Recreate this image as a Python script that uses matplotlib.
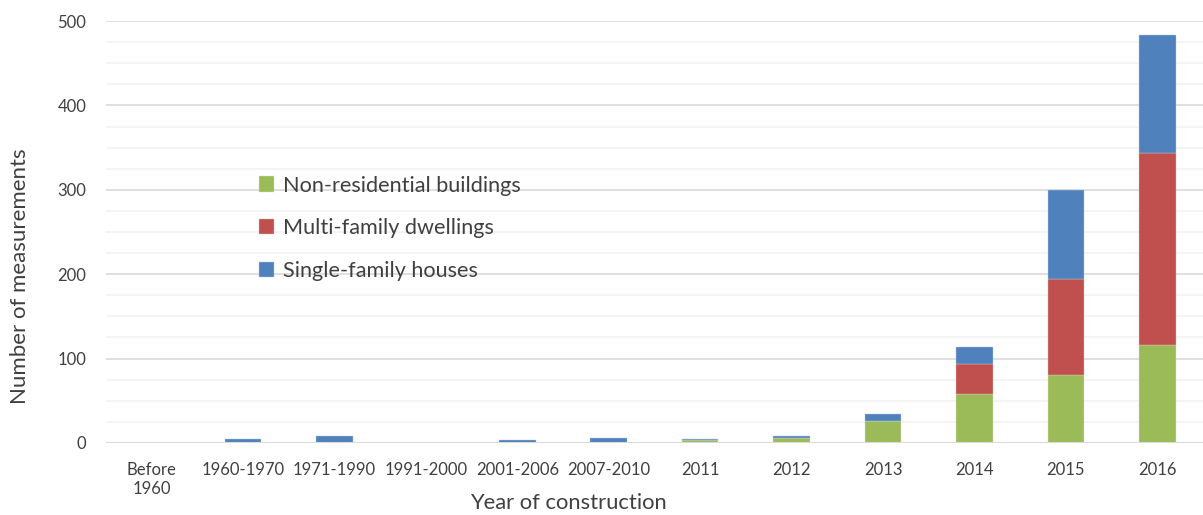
import matplotlib.pyplot as plt
import numpy as np

plt.rcParams['font.family'] = ['Lato', 'DejaVu Sans']

# Data
categories = ['Before\n1960', '1960-1970', '1971-1990', '1991-2000', '2001-2006', '2007-2010',
              '2011', '2012', '2013', '2014', '2015', '2016']
non_residential = [0, 0, 0, 0, 0, 0, 3, 6, 26, 58, 81, 116]
multi_family = [0, 0, 0, 0, 0, 0, 0, 0, 0, 35, 113, 228]
single_family = [0, 5, 8, 0, 4, 6, 2, 2, 8, 21, 106, 139]

green = '#9BBB59'
red = '#C0504D'
blue = '#4F81BD'

fig = plt.figure(figsize=(12.03, 5.15), dpi=100)
ax = fig.add_axes([0.088, 0.140, 0.912, 0.819])

x = np.arange(len(categories))
w = 0.40
nr = np.array(non_residential)
mf = np.array(multi_family)
sf = np.array(single_family)

ax.bar(x, nr, w, color=green, edgecolor='#d6e3bc', linewidth=0.3, label='Non-residential buildings', zorder=3)
ax.bar(x, mf, w, bottom=nr, color=red, edgecolor='#e6b9b8', linewidth=0.3, label='Multi-family dwellings', zorder=3)
ax.bar(x, sf, w, bottom=nr + mf, color=blue, edgecolor='#b9cde5', linewidth=0.3, label='Single-family houses', zorder=3)

ax.set_xlim(-0.5, len(categories) - 0.5)
ax.set_ylim(0, 500)
ax.set_yticks(np.arange(0, 501, 100))
ax.set_yticks(np.arange(0, 501, 25), minor=True)
ax.grid(axis='y', which='major', color='#d9d9d9', linewidth=1.2, zorder=0)
ax.grid(axis='y', which='minor', color='#f2f2f2', linewidth=1.2, zorder=0)
ax.axhline(0, color='#d9d9d9', linewidth=1.5, zorder=4)

ax.set_xticks(x)
ax.set_xticklabels(categories)
ax.tick_params(axis='both', which='both', length=0, labelsize=12, colors='#404040')
ax.tick_params(axis='x', pad=14)
ax.tick_params(axis='y', pad=14)
for s in ax.spines.values():
    s.set_visible(False)

ax.set_xlabel('Year of construction', fontsize=15.8, color='#404040', va='top')
ax.xaxis.set_label_coords(0.422, -0.118)
ax.set_ylabel('Number of measurements', fontsize=16, color='#404040', va='center')
ax.yaxis.set_label_coords(-0.078, 0.395)

ax.legend(loc='upper left', bbox_to_anchor=(0.199, 0.697), bbox_transform=fig.transFigure,
          frameon=False, fontsize=15.6, labelcolor='#404040', handlelength=0.7, handleheight=0.7,
          handletextpad=0.4, labelspacing=1.05)

plt.savefig('out.png')
